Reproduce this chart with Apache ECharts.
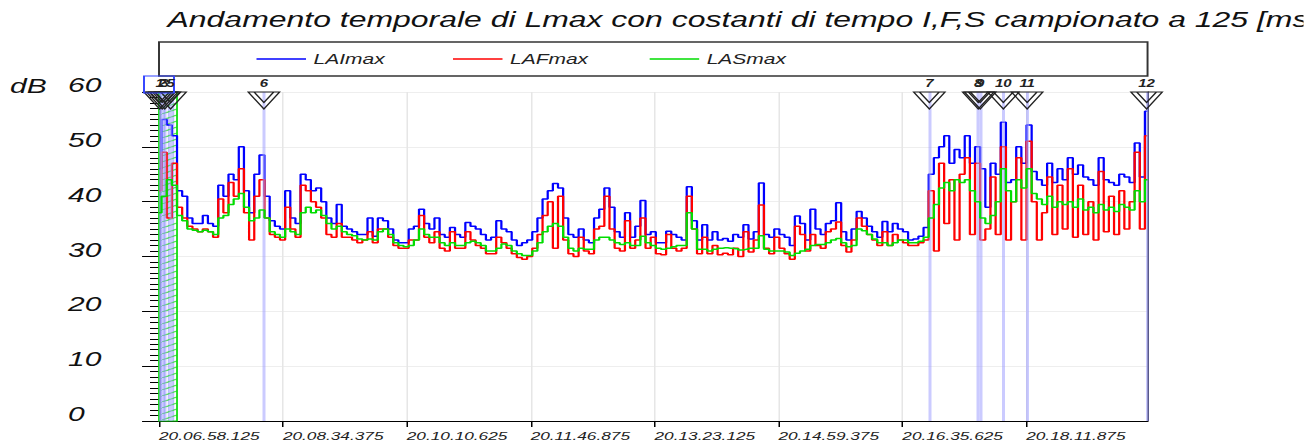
<!DOCTYPE html>
<html>
<head>
<meta charset="utf-8">
<title>Andamento temporale di Lmax</title>
<script src="https://cdn.jsdelivr.net/npm/echarts@6.0.0/dist/echarts.min.js"></script>
<style>
html, body { margin: 0; padding: 0; background: #fff; overflow: hidden; }
/* il grafico originale e' stirato in orizzontale */
#chart { width: 869.33px; height: 443px; transform: scaleX(1.5); transform-origin: 0 0; }
</style>
</head>
<body>
<div id="chart"></div>
<script>
// un campione ogni 4 s a partire da 20.06.58.125
var passo = 4;
var tickStep = 96.25;
var tickLabels = ['20.06.58.125', '20.08.34.375', '20.10.10.625', '20.11.46.875',
                  '20.13.23.125', '20.14.59.375', '20.16.35.625', '20.18.11.875'];

var laiMax = [
  46, 55, 54, 52, 42, 41, 37, 36, 36, 37.5, 36, 35.5, 43, 41, 45, 44, 50, 42, 38, 45,
  48.5, 41, 36.5, 35.5, 35, 42, 37, 36, 45, 44, 42, 42.5, 40, 37, 36, 39.5, 35.5, 35, 34.5,
  34, 34, 37, 33.7, 37, 36.5, 35, 33, 32.5, 32.5, 35, 35.5, 38.6, 36, 35, 37, 34, 33.5, 35.3,
  34, 33.5, 36.2, 35.5, 35, 34, 33, 33.5, 36.5, 35, 34.5, 33, 32, 32.5, 33, 34.5, 37, 40.5,
  42, 43.3, 42.5, 37, 34, 33.5, 35, 33, 32.5, 37, 38.6, 42.5, 39, 34.5, 33.5, 38, 33.5, 35.5,
  40.2, 34, 34.5, 32.5, 32.5, 34.6, 34, 33.5, 33, 42.7, 36.5, 33, 35.8, 33, 34.5, 33, 33.3, 32.8, 34, 33.5,
  35.8, 33.2, 34.5, 43.4, 34, 33.5, 35, 34, 33.5, 32, 37.4, 36, 33, 38.6, 35, 34, 36, 36.5, 39.8,
  34.5, 33, 35, 38.2, 37, 35.5, 34.5, 33.5, 36.4, 34.5, 36, 35, 34.5, 33, 33.2, 33.7, 35.3, 45, 48,
  50, 52, 47, 49.5, 48, 52, 47, 50, 46, 39, 47, 45, 54.5, 43.5, 44, 50, 47, 54, 45.5, 44, 43,
  47, 43.5, 46, 44, 48, 45, 46.7, 44.5, 44, 43, 48, 44, 43.5, 43, 45, 44.5, 43.5, 50.7, 44.5, 56.5
];
var lafMax = [
  42, 49, 37, 47, 39, 37, 35.5, 35, 34.5, 35, 34.5, 33.5, 40.5, 38, 43.5, 41, 46, 38, 33, 41,
  44, 37, 34, 33.5, 33, 39, 35, 33.5, 43, 42, 40, 39, 37, 34, 33.5, 36, 33.5, 33.5, 33,
  32.5, 33, 34.5, 32.5, 35, 35, 33.5, 32, 31.5, 31.5, 33, 33, 37.5, 33.5, 32.5, 34.5, 31.5, 31, 34.5,
  31.5, 31.5, 34.5, 33, 32, 31.5, 30.5, 30.5, 33.5, 32.5, 31.5, 30.5, 29.8, 29.5, 30, 31.5, 34, 37.5,
  40, 31.5, 41, 33, 30.5, 30, 33.5, 31, 30.5, 35, 35.5, 41, 35, 31.5, 31, 36.5, 31.5, 33,
  37, 31.5, 33.5, 30.5, 30.3, 34, 31.5, 31, 31.5, 41, 35, 30.5, 33.5, 30.5, 32, 30.3, 30.6, 30.3, 31.5, 30,
  34.5, 30.8, 33, 39.4, 31.5, 30.5, 33.5, 31.5, 30.5, 29.5, 35.5, 34, 31, 34, 32, 31.5, 34.5, 35, 36.3,
  32, 30.8, 33, 37, 35.5, 34, 33, 32, 34.5, 32, 34, 33, 32.5, 32, 32, 32.5, 33, 42, 31,
  47, 36, 44, 33, 45, 48, 34, 47, 33, 35, 44.5, 34, 50, 33, 40, 48, 33, 51, 40, 33, 38,
  44.5, 34, 43, 35, 46, 33.5, 43, 34, 40, 33, 45.5, 34.5, 41, 34, 42, 35, 40, 49, 35, 52
];
var lasMax = [
  38, 41, 44, 43, 37.5, 36.5, 35, 34.8, 34.5, 34.8, 34.5, 34, 37, 37.5, 39.5, 40.5, 41.5, 39, 36.5, 37,
  38.5, 37, 34.5, 34, 33.5, 35, 34.5, 34, 38, 39, 38, 38.5, 37.5, 36, 35, 35.5, 34.5, 34, 33.8,
  33.2, 33, 33.2, 33, 34.5, 35, 34, 32.5, 32, 31.8, 32, 33, 35, 34, 33.5, 33.5, 32.5, 32, 32.5,
  32, 32, 32.5, 32.8, 32.5, 32, 31, 31, 31.5, 32.3, 32, 31, 30.5, 30.2, 30.2, 31, 32.5, 34.5,
  35.5, 36, 35.5, 33.5, 31.5, 31, 31.5, 31.3, 31.3, 33, 33.5, 33.5, 33, 32.5, 32.2, 32.5, 32, 32,
  33.7, 32.5, 32, 31.5, 31.3, 31.5, 31.8, 32, 32, 38, 35, 31.3, 31.3, 31, 31.3, 31.5, 31.6, 31.5, 31.4, 31.2,
  31.3, 31.5, 31.5, 33.8, 31.3, 31, 31, 31, 30.8, 30.2, 30.6, 31, 31.3, 32, 32.2, 32.2, 32.5, 33, 33.3,
  32.5, 31.8, 32, 35, 34.7, 34, 33.2, 32.5, 32.5, 32, 32.5, 33, 33, 32.5, 32.5, 32.8, 33.5, 37, 39.5,
  42.5, 43.5, 42, 44, 43.5, 44, 42, 40, 37, 36, 37.5, 40, 46, 42, 40, 44, 42.5, 46, 41.5, 40.5, 39.5,
  41, 39, 40, 39.5, 40, 39, 40.5, 38.5, 39, 38, 39.5, 38.5, 39, 38.2, 39.5, 39, 38.5, 42, 40, 44
];

// marcatori (secondi dall'inizio)
var markerNames = ['1', '2', '3', '5', '6', '7', '8', '9', '10', '11', '12'];
var markerTimes = [0.5, 2.5, 4.5, 9, 81.5, 598.5, 636.5, 638, 656, 674.5, 767.3];
// zona tratteggiata iniziale
var zonaEsclusa = [0, 14];

var font = '"Liberation Sans", Arial, sans-serif';

function toPairs(arr) {
    return arr.map(function (v, i) { return [i * passo, v]; });
}

// trama del tratteggio
var hatch = document.createElement('canvas');
hatch.width = 12;
hatch.height = 6;
var ctx = hatch.getContext('2d');
ctx.strokeStyle = 'rgba(110,110,255,0.55)';
ctx.lineWidth = 1;
for (var x = 1.5; x < 12; x += 3) {
    ctx.beginPath(); ctx.moveTo(x, 0); ctx.lineTo(x, 6); ctx.stroke();
}
ctx.strokeStyle = '#22dd22';
ctx.beginPath(); ctx.moveTo(0, 6); ctx.lineTo(12, 0); ctx.stroke();

var markerPath = 'path://M0,0L32,0L16,18ZM6,0L16,11L26,0';

var markPoints = markerTimes.map(function (t, i) {
    return { name: markerNames[i], coord: [t, 60] };
});
markPoints.push({
    name: '', coord: [0, 60], symbol: 'rect', symbolSize: [20, 17], symbolOffset: [0, -7.5],
    itemStyle: { color: 'rgba(0,0,0,0)', borderColor: '#3344ff', borderWidth: 1.2 },
    label: { show: false }
});

function serie(name, color, data, z) {
    return {
        name: name, type: 'line', step: 'middle', symbol: 'none', z: z,
        color: color, lineStyle: { width: 1.5, color: color },
        data: toPairs(data)
    };
}

var chart = echarts.init(document.getElementById('chart'), null, { renderer: 'svg' });
chart.setOption({
    animation: false,
    textStyle: { fontFamily: font },
    title: {
        text: 'Andamento temporale di Lmax con costanti di tempo I,F,S campionato a 125 [ms]',
        left: 106.7, top: 4,
        textStyle: { fontSize: 21.3, fontStyle: 'italic', fontWeight: 'normal', color: '#111', fontFamily: font }
    },
    legend: {
        data: ['LAImax', 'LAFmax', 'LASmax'],
        left: 106, top: 42,
        padding: [10, 241, 10, 65],
        icon: 'rect',
        itemGap: 41, itemWidth: 33, itemHeight: 1.3,
        borderColor: '#333', borderWidth: 1.3,
        textStyle: { fontSize: 14, fontStyle: 'italic', color: '#222', width: 52, lineHeight: 14, fontFamily: font }
    },
    graphic: [{
        type: 'text', left: 6.7, top: 76,
        style: { text: 'dB', font: 'italic 20px ' + font, fill: '#111' }
    }],
    grid: { left: 106, right: 104, top: 92, bottom: 22, outerBoundsMode: 'none' },
    xAxis: {
        type: 'value', min: 0, max: 768, interval: tickStep,
        axisLine: { show: true, onZero: false, lineStyle: { color: '#000', width: 1 } },
        axisTick: { show: true, length: 6, lineStyle: { color: '#000' } },
        axisLabel: {
            showMaxLabel: false, align: 'left', margin: 9,
            fontSize: 11.5, fontStyle: 'italic', color: '#222', fontFamily: font,
            formatter: function (v) { return tickLabels[Math.round(v / tickStep)] || ''; }
        },
        splitLine: { show: true, lineStyle: { color: '#e6e6e6', width: 1 } }
    },
    yAxis: [{
        type: 'value', min: 0, max: 60, interval: 10,
        axisLine: { show: true, lineStyle: { color: '#000', width: 1 } },
        axisTick: { show: true, length: 11.3, lineStyle: { color: '#000' } },
        minorTick: { show: true, splitNumber: 10, length: 6, lineStyle: { color: '#000' } },
        axisLabel: {
            align: 'left', margin: 60.7, verticalAlign: 'bottom', lineHeight: 14,
            fontSize: 20, fontStyle: 'italic', color: '#111', fontFamily: font
        },
        splitLine: { show: true, lineStyle: { color: '#eeeeee', width: 1 } }
    }, {
        type: 'value', min: 0, max: 60, position: 'right',
        axisLine: { show: true, lineStyle: { color: '#000', width: 1 } },
        axisTick: { show: false }, axisLabel: { show: false }, splitLine: { show: false }
    }],
    series: [
        serie('LAImax', '#0000ff', laiMax, 3),
        serie('LAFmax', '#ff0000', lafMax, 4),
        serie('LASmax', '#00dd00', lasMax, 5),
        {
            name: 'marcatori', type: 'line', data: [], z: 2, silent: true,
            markLine: {
                silent: true, symbol: ['none', 'none'],
                lineStyle: { color: 'rgba(160,160,255,0.55)', width: 2, type: 'solid' },
                label: { show: false },
                data: markerTimes.map(function (t) { return { xAxis: t }; })
            },
            markArea: {
                silent: true,
                itemStyle: {
                    color: { image: hatch, repeat: 'repeat' }, opacity: 1,
                    borderColor: '#11dd11', borderWidth: 1.2
                },
                data: [[{ xAxis: zonaEsclusa[0] }, { xAxis: zonaEsclusa[1] }]]
            },
            markPoint: {
                silent: true,
                symbol: markerPath, symbolSize: [21, 17], symbolOffset: [0, '50%'],
                itemStyle: { color: 'rgba(0,0,0,0)', borderColor: '#222', borderWidth: 1 },
                label: {
                    show: true, position: 'top', distance: 3, formatter: '{b}',
                    fontSize: 10, fontStyle: 'italic', fontWeight: 'bold', color: '#222', fontFamily: font
                },
                data: markPoints
            }
        }
    ]
});
</script>
</body>
</html>
